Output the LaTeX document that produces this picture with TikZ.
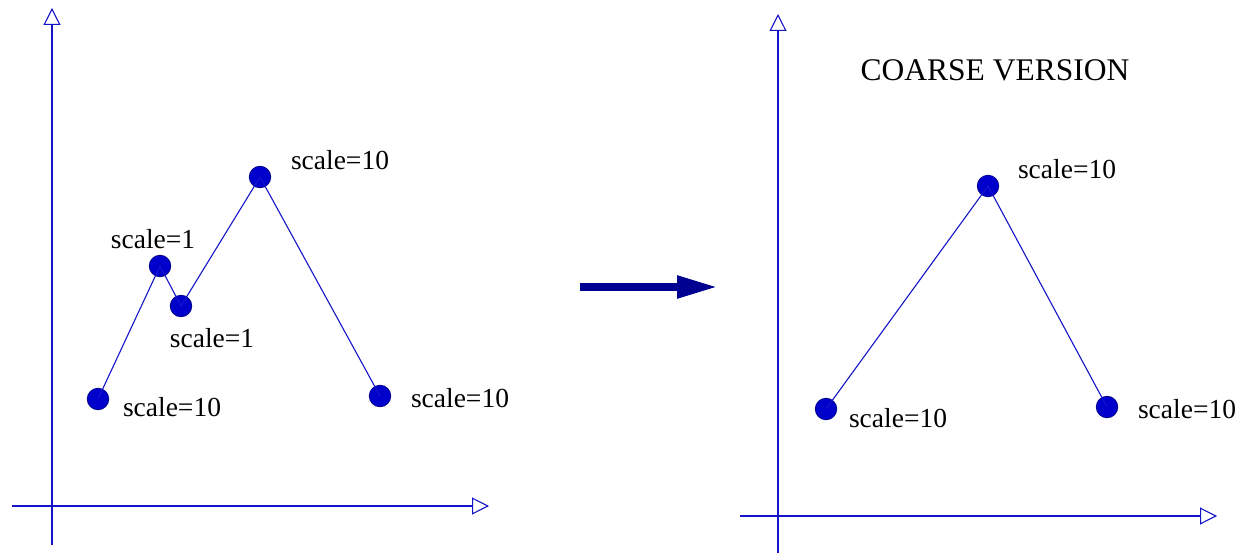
\documentclass[tikz,border=0pt]{standalone}
\usepackage{fontspec}
\setmainfont{Liberation Serif}
\usetikzlibrary{arrows.meta}
\definecolor{lineblue}{RGB}{20,20,200}
\definecolor{dotfill}{RGB}{0,0,205}
\definecolor{dotdraw}{RGB}{0,0,140}
\definecolor{bigarrow}{RGB}{0,0,145}
\tikzset{
  dot/.style={circle, fill=dotfill, draw=dotdraw, line width=0.8pt, minimum size=21.5pt, inner sep=0pt},
  lbl/.style={font=\fontsize{27.5}{30}\selectfont, inner sep=0pt},
  ttl/.style={font=\fontsize{31.5}{34}\selectfont, inner sep=0pt},
  seg/.style={draw=lineblue, line width=1.1pt},
  axis/.style={draw=lineblue, line width=1.1pt, -{Triangle[open, length=17pt, width=17pt, fill=white]}},
  bigarr/.style={draw=bigarrow, line width=8pt, -{Triangle[length=41pt, width=21pt]}}
}
\begin{document}
\begin{tikzpicture}[x=1pt, y=-1pt]
\useasboundingbox (0,0) rectangle (1241,556);
% left axes
\coordinate (ly0) at (52,545);
\coordinate (ly1) at (52,8);
\coordinate (lx0) at (12,506);
\coordinate (lx1) at (489,506);
\draw[axis] (ly0) -- (ly1);
\draw[axis] (lx0) -- (lx1);
% right axes
\coordinate (ry0) at (778,553);
\coordinate (ry1) at (778,14);
\coordinate (rx0) at (740,516);
\coordinate (rx1) at (1217,516);
\draw[axis] (ry0) -- (ry1);
\draw[axis] (rx0) -- (rx1);
% left dots
\node[dot] (a) at (98,399) {};
\node[dot] (b) at (160,266) {};
\node[dot] (c) at (181,306) {};
\node[dot] (d) at (260,177) {};
\node[dot] (e) at (380,396) {};
\draw[seg] (a.center) -- (b.center) -- (c.center) -- (d.center) -- (e.center);
\node[lbl] (la) at (172,407) {scale=10};
\node[lbl] (lb) at (153,239) {scale=1};
\node[lbl] (lc) at (212,338) {scale=1};
\node[lbl] (ld) at (340,160) {scale=10};
\node[lbl] (le) at (460,398) {scale=10};
% big arrow
\coordinate (ba0) at (580,287);
\coordinate (ba1) at (718,287);
\draw[bigarr] (ba0) -- (ba1);
% right dots
\node[dot] (f) at (826,409) {};
\node[dot] (g) at (988,186) {};
\node[dot] (h) at (1107,407) {};
\draw[seg] (f.center) -- (g.center) -- (h.center);
\node[lbl] (lf) at (898,418) {scale=10};
\node[lbl] (lg) at (1067,169) {scale=10};
\node[lbl] (lh) at (1187,409) {scale=10};
\node[ttl] (title) at (995,70) {COARSE VERSION};
\end{tikzpicture}
\end{document}
